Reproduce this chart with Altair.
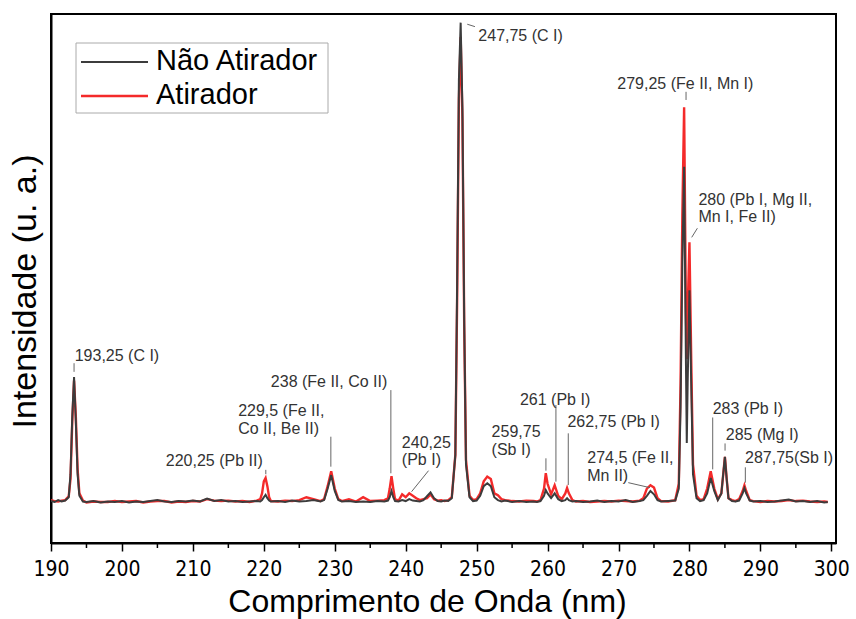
import altair as alt
import pandas as pd

# ---------------- data ----------------
wavelength = [
    190, 190.5, 191, 191.5, 192, 192.5, 192.75, 193, 193.25, 193.5, 193.75, 194, 194.5,
    195, 196, 197, 198, 199, 200, 201, 202, 203, 204, 205, 206, 207, 208, 209, 210, 211, 212, 213, 214, 215, 216, 217, 218, 219,
    219.5, 219.75, 220, 220.25, 220.5, 220.75, 221, 222, 223, 224, 225, 226, 227, 228,
    228.5, 229, 229.5, 230, 230.5, 231, 232, 233, 234, 235, 236, 237,
    237.5, 237.75, 238, 238.25, 238.5, 239, 239.5, 240, 240.5, 241, 241.5, 242, 242.5, 243, 243.5, 244, 244.5, 245, 245.5, 246, 246.5,
    247, 247.25, 247.5, 247.75, 248, 248.25, 248.5, 249, 249.5,
    250, 250.5, 251, 251.5, 252, 252.5, 253, 253.5, 254, 255, 256, 257, 258, 258.5,
    259, 259.5, 259.75, 260, 260.5, 261, 261.5, 262, 262.5, 262.75, 263, 263.5,
    264, 265, 266, 267, 268, 269, 270, 271, 272, 273, 273.5,
    274, 274.5, 275, 275.5, 276, 277, 278, 278.5,
    278.75, 279, 279.25, 279.5, 279.625, 279.75, 280, 280.25, 280.5, 281, 281.5,
    282, 282.5, 283, 283.5, 284, 284.5, 285, 285.25, 285.5, 286, 286.5, 287, 287.5, 287.75, 288, 288.5, 289,
    290, 291, 292, 293, 294, 295, 296, 297, 298, 299, 299.5,
]
nao_atirador = [
    .004, .002, .006, .003, .005, .012, .06, .18, .262, .17, .06, .015, .003,
    .002, .004, .001, .003, .002, .004, .001, .003, .002, .004, .006, .003, .002, .004, .003, .005, .003, .009, .004, .006, .003, .004, .002, .003, .004,
    .003, .006, .012, .017, .010, .005, .003, .004, .002, .005, .003, .004, .006, .003,
    .006, .03, .058, .025, .006, .003, .004, .002, .003, .002, .004, .003,
    .005, .012, .025, .012, .004, .003, .006, .004, .008, .005, .004, .003, .006, .014, .022, .01, .004, .003, .005, .004, .01,
    .1, .45, .88, 1.0, .82, .38, .08, .012, .004,
    .005, .015, .035, .041, .035, .012, .006, .003, .005, .002, .004, .002, .003, .002,
    .004, .015, .027, .02, .01, .02, .008, .004, .006, .01, .006, .003,
    .004, .002, .003, .005, .002, .004, .003, .006, .002, .004, .006,
    .015, .025, .018, .006, .003, .004, .005, .03,
    .2, .5, .70, .30, .125, .25, .443, .25, .06, .01, .004,
    .006, .02, .052, .025, .006, .02, .096, .05, .01, .004, .003, .005, .02, .031, .02, .005, .003,
    .004, .002, .003, .005, .007, .003, .004, .002, .004, .001, .002,
]
atirador = [
    .006, .004, .003, .005, .006, .014, .05, .17, .255, .18, .07, .02, .005,
    .001, .003, .002, .002, .004, .002, .003, .004, .001, .003, .004, .004, .001, .003, .002, .004, .003, .008, .005, .004, .005, .003, .004, .002, .005,
    .008, .02, .045, .052, .035, .012, .004, .003, .005, .004, .006, .012, .008, .004,
    .008, .035, .066, .03, .008, .004, .008, .003, .012, .004, .005, .006,
    .01, .03, .056, .03, .008, .005, .018, .012, .02, .015, .01, .006, .008, .01, .018, .008, .005, .006, .004, .006, .012,
    .1, .42, .84, .97, .8, .37, .09, .015, .006,
    .008, .02, .045, .055, .05, .02, .016, .008, .006, .004, .003, .005, .004, .003,
    .006, .03, .062, .04, .018, .037, .015, .008, .02, .031, .02, .006,
    .003, .004, .002, .003, .004, .003, .005, .004, .003, .005, .01,
    .03, .037, .032, .01, .004, .003, .006, .04,
    .25, .6, .824, .40, .30, .40, .543, .3, .08, .015, .006,
    .008, .03, .066, .03, .008, .02, .096, .05, .01, .006, .004, .008, .025, .037, .025, .006, .004,
    .002, .004, .003, .004, .006, .004, .005, .003, .002, .003, .002,
]

series_names = ["Não Atirador", "Atirador"]
series_colors = ["#3c3c3c", "#f42a2a"]

x_major_ticks = [190, 200, 210, 220, 230, 240, 250, 260, 270, 280, 290, 300]
x_minor_ticks = [195, 205, 215, 225, 235, 245, 255, 265, 275, 285, 295]

# annotation text lines (left edge wavelength, intensity, text)
ann_text = [
    "193,25 (C I)", "220,25 (Pb II)", "229,5 (Fe II,", "Co II, Be II)", "238 (Fe II, Co II)",
    "240,25", "(Pb I)", "247,75 (C I)", "259,75", "(Sb I)", "261 (Pb I)", "262,75 (Pb I)",
    "274,5 (Fe II,", "Mn II)", "279,25 (Fe II, Mn I)", "280 (Pb I, Mg II,", "Mn I, Fe II)",
    "283 (Pb I)", "285 (Mg I)", "287,75(Sb I)",
]
ann_x = [
    193.34, 206.18, 216.38, 216.38, 220.99,
    239.46, 239.46, 250.24, 252.11, 252.11, 256.11, 262.80,
    265.60, 265.60, 269.83, 281.26, 281.26,
    283.28, 285.12, 287.84,
]
ann_y = [
    .306, .088, .192, .153, .2526,
    .124, .0895, .972, .1485, .110, .2145, .169,
    .093, .0562, .872, .631, .595,
    .195, .1416, .093,
]
# leader lines
lead_x = [193.25, 220.28, 229.45, 237.91, 243.22, 248.68, 259.77, 261.18, 262.92, 271.38, 279.52, 281.12, 283.28, 285.02, 287.88]
lead_y = [.291, .069, .138, .235, .0673, .9967, .093, .204, .145, .0423, .856, .572, .178, .124, .0743]
lead_x2 = [193.25, 220.28, 229.45, 237.91, 240.83, 249.76, 259.77, 261.18, 262.92, 274.44, 279.52, 280.32, 283.28, 285.02, 287.88]
lead_y2 = [.273, .060, .0756, .0618, .0235, .9917, .0673, .0444, .0375, .0319, .839, .553, .070, .109, .0423]

# ---------------- chart ----------------
FONT = "Liberation Sans, Arial, sans-serif"
NARROW = "Liberation Sans Narrow, Arial Narrow, DejaVu Sans Condensed, Liberation Sans, sans-serif"

W, H = 785, 529
spec = pd.DataFrame({"wl": wavelength, "nao": nao_atirador, "ati": atirador})

xscale = alt.Scale(domain=[190, 300.66], nice=False, zero=False)
yscale = alt.Scale(domain=[-0.0833, 1.018], nice=False, zero=False)

x_axis = alt.Axis(
    values=x_major_ticks, title="Comprimento de Onda (nm)", grid=False,
    labelFont=NARROW, labelFontSize=21, labelColor="black", labelPadding=7,
    labelFlush=False, labelOverlap=False,
    tickSize=8, tickWidth=1.5, tickColor="black",
    domainColor="black", domainWidth=2,
    titleFont=FONT, titleFontSize=32, titleFontWeight="normal", titleColor="black",
    titleX=376, titleY=58, titleAlign="center", titleBaseline="middle",
)
y_axis = alt.Axis(
    title="Intensidade (u. a.)", labels=False, ticks=False, grid=False,
    domainColor="black", domainWidth=2,
    titleFont=FONT, titleFontSize=34, titleFontWeight="normal", titleColor="black",
    titleX=-26, titleY=277, titleAngle=270, titleAlign="center", titleBaseline="middle",
)

def X(field):
    return alt.X(field, scale=xscale, axis=x_axis)

def Y(field):
    return alt.Y(field, scale=yscale, axis=y_axis)

base = alt.Chart(spec)
red_line = base.mark_line(color=series_colors[1], strokeWidth=2.4, clip=True).encode(
    x=X("wl:Q"), y=Y("ati:Q"),
)
dark_line = base.mark_line(color=series_colors[0], strokeWidth=2, clip=True).encode(
    x=X("wl:Q"), y=Y("nao:Q"),
)

minor = alt.Chart(pd.DataFrame({"m": x_minor_ticks})).mark_rule(color="black", strokeWidth=1.5).encode(
    x=X("m:Q"),
    y=alt.value(H), y2=alt.value(H + 5),
)

ann_df = pd.DataFrame({"t": ann_text, "x": ann_x, "y": ann_y})
ann = alt.Chart(ann_df).mark_text(
    align="left", baseline="middle", font=FONT, fontSize=16, color="#333333"
).encode(
    x=X("x:Q"), y=Y("y:Q"), text="t:N",
)

lead_df = pd.DataFrame({"x": lead_x, "y": lead_y, "x2": lead_x2, "y2": lead_y2})
leaders = alt.Chart(lead_df).mark_rule(color="#666666", strokeWidth=1).encode(
    x=X("x:Q"), y=Y("y:Q"), x2="x2:Q", y2="y2:Q",
)

one = pd.DataFrame({"k": [0]})
leg_box = alt.Chart(one).mark_rect(fill="white", stroke="#aaaaaa", strokeWidth=1).encode(
    x=alt.value(25), x2=alt.value(277), y=alt.value(29), y2=alt.value(99)
)
leg_line1 = alt.Chart(one).mark_rule(color=series_colors[0], strokeWidth=2).encode(
    x=alt.value(30), x2=alt.value(97), y=alt.value(48)
)
leg_line2 = alt.Chart(one).mark_rule(color=series_colors[1], strokeWidth=2.4).encode(
    x=alt.value(30), x2=alt.value(97), y=alt.value(82)
)
leg_df = pd.DataFrame({"name": series_names})
leg_text1 = alt.Chart(leg_df.iloc[[0]]).mark_text(
    align="left", baseline="middle", font=FONT, fontSize=29, color="black"
).encode(x=alt.value(105), y=alt.value(47), text="name:N")
leg_text2 = alt.Chart(leg_df.iloc[[1]]).mark_text(
    align="left", baseline="middle", font=FONT, fontSize=29, color="black"
).encode(x=alt.value(105), y=alt.value(81), text="name:N")

chart = alt.layer(
    red_line, dark_line, minor, leaders, ann, leg_box, leg_line1, leg_line2, leg_text1, leg_text2
).properties(
    width=W, height=H, autosize="none", background="white",
    padding={"left": 51, "top": 14, "right": 20, "bottom": 76},
).configure_view(stroke="black", strokeWidth=2)

chart.save("out.html", embed_options={"renderer": "svg", "actions": False})
